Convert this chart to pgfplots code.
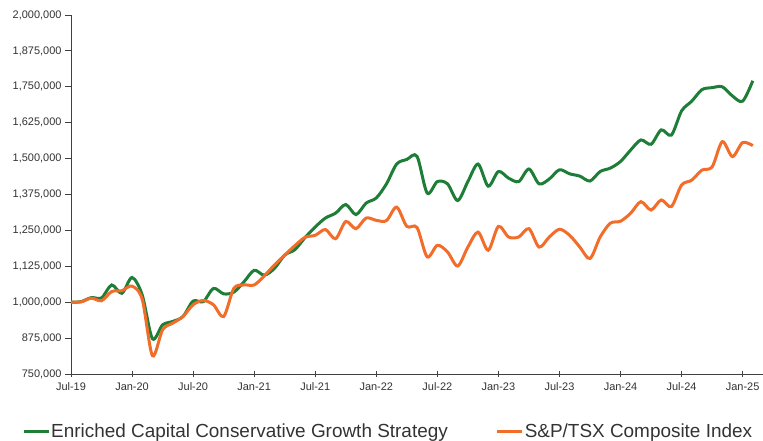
\documentclass[border=0pt]{standalone}
\usepackage{fontspec}
\setmainfont{Liberation Sans}
\usepackage{pgfplots}
\usepackage{pgfplotstable}
\pgfplotsset{compat=1.18}

\definecolor{ecgreen}{RGB}{30,125,55}
\definecolor{tsxorange}{RGB}{242,108,42}
\definecolor{axisgray}{RGB}{64,64,64}
\definecolor{labelgray}{RGB}{51,51,51}

% month index: 0 = Jul-19
\pgfplotstableread{
m strategy tsx
0 1000000 1000000
1 1002000 1001000
2 1016000 1014000
3 1015000 1005000
4 1060000 1037000
5 1031000 1040000
6 1086000 1056000
7 1025000 1010000
8 873000 814000
9 921000 904000
10 933000 927000
11 950000 950000
12 1004000 991000
13 1002000 1006000
14 1048000 991000
15 1029000 950000
16 1035000 1048000
17 1071000 1060000
18 1111000 1060000
19 1094000 1092000
20 1118000 1130000
21 1164000 1164000
22 1183000 1197000
23 1225000 1226000
24 1262000 1233000
25 1293000 1253000
26 1310000 1221000
27 1340000 1281000
28 1305000 1256000
29 1345000 1293000
30 1363000 1285000
31 1412000 1284000
32 1481000 1331000
33 1497000 1264000
34 1508000 1260000
35 1380000 1158000
36 1420000 1198000
37 1412000 1175000
38 1354000 1126000
39 1420000 1192000
40 1481000 1244000
41 1404000 1181000
42 1455000 1264000
43 1432000 1227000
44 1420000 1227000
45 1464000 1256000
46 1412000 1192000
47 1429000 1227000
48 1461000 1254000
49 1447000 1233000
50 1439000 1192000
51 1422000 1152000
52 1455000 1227000
53 1467000 1275000
54 1490000 1282000
55 1530000 1310000
56 1565000 1350000
57 1550000 1321000
58 1600000 1356000
59 1582000 1333000
60 1666000 1408000
61 1700000 1425000
62 1740000 1460000
63 1747000 1471000
64 1750000 1559000
65 1718000 1507000
66 1700000 1556000
67 1771000 1545000
}\perf

\begin{document}
\begin{tikzpicture}
\useasboundingbox (-71bp,-67bp) rectangle (692bp,374bp);
\begin{axis}[
    at={(0,0)}, anchor=origin,
    scale only axis,
    width=692bp, height=359bp,
    xmin=0, xmax=68,
    ymin=750000, ymax=2000000,
    axis lines=left,
    axis line style={axisgray, line width=0.8bp, -},
    xtick={0,6,...,66},
    xticklabels={Jul-19,Jan-20,Jul-20,Jan-21,Jul-21,Jan-22,Jul-22,Jan-23,Jul-23,Jan-24,Jul-24,Jan-25},
    ytick={750000,875000,...,2000000},
    scaled y ticks=false,
    yticklabel style={/pgf/number format/.cd, fixed, 1000 sep={,}},
    /pgf/number format/assume math mode=true,
    tick style={axisgray, line width=0.8bp},
    xtick align=center,
    ytick align=outside,
    major tick length=6bp,
    tick label style={font=\fontsize{11}{13}\selectfont, text=labelgray},
    xticklabel style={yshift=-2bp},
    legend columns=2,
    legend style={
        at={(-0.0708,-0.1588)}, anchor=west,
        draw=none, fill=none, inner sep=0pt,
        font=\fontsize{19}{22}\selectfont, text=labelgray,
        nodes={inner sep=1bp},
        /tikz/column 2/.style={column sep=47bp},
    },
    legend image code/.code={\draw[#1, line width=3bp] (0bp,0bp) -- (25bp,0bp);},
]
\addplot[ecgreen, line width=3bp, smooth, tension=0.5] table[x=m, y=strategy] {\perf};
\addlegendentry{Enriched Capital Conservative Growth Strategy}
\addplot[tsxorange, line width=3bp, smooth, tension=0.5] table[x=m, y=tsx] {\perf};
\addlegendentry{S\&P/TSX Composite Index}
\end{axis}
\end{tikzpicture}
\end{document}
